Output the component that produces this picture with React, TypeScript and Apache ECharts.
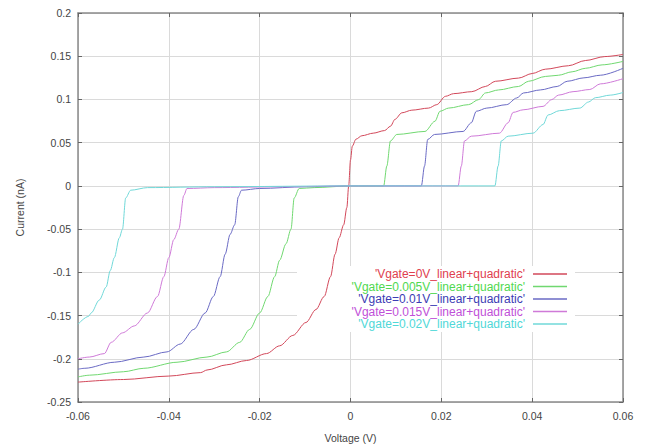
import React, { useEffect, useRef } from "react";
import * as echarts from "echarts";

const seriesNames = [
  "'Vgate=0V_linear+quadratic'",
  "'Vgate=0.005V_linear+quadratic'",
  "'Vgate=0.01V_linear+quadratic'",
  "'Vgate=0.015V_linear+quadratic'",
  "'Vgate=0.02V_linear+quadratic'",
];
const seriesColors = ["#e0404f", "#50d850", "#3c3cb4", "#c050d8", "#50d8d8"];
const lineColors = ["#d2485a", "#70d870", "#6a6ac4", "#cf7ad8", "#70d8d8"];

const xTicks = [-0.06, -0.04, -0.02, 0, 0.02, 0.04, 0.06];
const yTicks = [-0.25, -0.2, -0.15, -0.1, -0.05, 0, 0.05, 0.1, 0.15, 0.2];

const vgate0: number[][] = [
  [-0.06, -0.227], [-0.05, -0.224], [-0.04, -0.22], [-0.033, -0.216], [-0.0316, -0.213],
  [-0.0273, -0.207], [-0.0229, -0.202], [-0.0185, -0.194], [-0.0156, -0.185], [-0.0127, -0.173],
  [-0.0098, -0.158], [-0.0076, -0.143], [-0.0058, -0.128], [-0.0044, -0.105], [-0.0034, -0.079],
  [-0.0025, -0.06], [-0.0015, -0.045], [-0.0008, -0.025], [-0.0004, 0], [0, 0.03],
  [0.0004, 0.046], [0.0012, 0.054], [0.0025, 0.058], [0.005, 0.061], [0.0075, 0.064],
  [0.0088, 0.069], [0.0098, 0.077], [0.0113, 0.0845], [0.0135, 0.0876], [0.0172, 0.09],
  [0.019, 0.094], [0.0209, 0.1036], [0.0227, 0.1067], [0.0267, 0.109], [0.0297, 0.115],
  [0.0319, 0.121], [0.037, 0.1247], [0.04, 0.13], [0.0429, 0.135], [0.048, 0.139],
  [0.0517, 0.145], [0.056, 0.1496], [0.06, 0.152],
];
const vgate005: number[][] = [
  [-0.06, -0.221], [-0.0575, -0.219], [-0.05, -0.215], [-0.0455, -0.211], [-0.0382, -0.204],
  [-0.0316, -0.198], [-0.0273, -0.192], [-0.0244, -0.181], [-0.0222, -0.166], [-0.02, -0.147],
  [-0.0182, -0.128], [-0.0167, -0.105], [-0.0156, -0.086], [-0.0142, -0.067], [-0.0131, -0.05],
  [-0.0124, -0.014], [-0.0113, -0.003], [-0.008, -0.002], [0, 0], [0.0073, 0],
  [0.008, 0.023], [0.0088, 0.052], [0.0102, 0.0595], [0.0164, 0.063], [0.0186, 0.0748],
  [0.0197, 0.0863], [0.0216, 0.09], [0.026, 0.094], [0.0282, 0.0998], [0.0297, 0.1075],
  [0.0326, 0.111], [0.037, 0.115], [0.0392, 0.121], [0.0429, 0.1266], [0.0458, 0.128],
  [0.0488, 0.132], [0.0517, 0.136], [0.0554, 0.14], [0.06, 0.144],
];
const vgate01: number[][] = [
  [-0.06, -0.212], [-0.0585, -0.211], [-0.052, -0.204], [-0.0455, -0.198], [-0.0404, -0.192],
  [-0.0375, -0.183], [-0.0345, -0.166], [-0.032, -0.147], [-0.0302, -0.128], [-0.0287, -0.105],
  [-0.0276, -0.079], [-0.0265, -0.056], [-0.0255, -0.045], [-0.0247, -0.0125], [-0.024, -0.005],
  [-0.02, -0.003], [-0.01, -0.001], [0, 0], [0.0156, 0], [0.0163, 0.023],
  [0.017, 0.0537], [0.0185, 0.0595], [0.0248, 0.063], [0.0266, 0.073], [0.0277, 0.0863],
  [0.03, 0.09], [0.0344, 0.094], [0.0366, 0.1017], [0.0381, 0.1075], [0.0418, 0.111],
  [0.0455, 0.115], [0.0477, 0.121], [0.0514, 0.125], [0.055, 0.128], [0.06, 0.136],
];
const vgate015: number[][] = [
  [-0.06, -0.2], [-0.0575, -0.198], [-0.0542, -0.194], [-0.0527, -0.181], [-0.0502, -0.17],
  [-0.0476, -0.162], [-0.0447, -0.147], [-0.0425, -0.128], [-0.0411, -0.105], [-0.04, -0.083],
  [-0.0389, -0.062], [-0.0378, -0.05], [-0.0367, -0.011], [-0.036, -0.003], [-0.03, -0.002],
  [-0.015, -0.001], [0, 0], [0.0237, 0], [0.0244, 0.023], [0.0251, 0.052],
  [0.0266, 0.0575], [0.0328, 0.061], [0.0347, 0.073], [0.0358, 0.085], [0.038, 0.088],
  [0.0424, 0.092], [0.0443, 0.0998], [0.0458, 0.105], [0.049, 0.109], [0.0527, 0.1115],
  [0.055, 0.118], [0.06, 0.124],
];
const vgate02: number[][] = [
  [-0.06, -0.16], [-0.0577, -0.151], [-0.0571, -0.147], [-0.0553, -0.132], [-0.0538, -0.117],
  [-0.0529, -0.098], [-0.052, -0.083], [-0.0509, -0.06], [-0.0502, -0.05], [-0.0495, -0.014],
  [-0.0484, -0.005], [-0.0447, -0.002], [-0.03, -0.001], [0, 0], [0.0318, 0],
  [0.0325, 0.023], [0.0332, 0.052], [0.0347, 0.0575], [0.0402, 0.061], [0.0424, 0.071],
  [0.0435, 0.082], [0.046, 0.087], [0.0505, 0.09], [0.0524, 0.097], [0.0539, 0.102],
  [0.0572, 0.105], [0.06, 0.108],
];
const allData = [vgate0, vgate005, vgate01, vgate015, vgate02];

const FONT = "Liberation Sans, Arial, sans-serif";
const fmt = (v: number) => String(+v.toFixed(3));

export default function App() {
  const ref = useRef<HTMLDivElement>(null);
  useEffect(() => {
    if (!ref.current) return;
    const chart = echarts.init(ref.current, undefined, { renderer: "svg" });
    const axisLine = { show: true, onZero: false, lineStyle: { color: "#8a8a8a", width: 1.5 } };
    const tick = { show: true, inside: true, length: 4, lineStyle: { color: "#666" } };
    const xBase = { type: "value" as const, min: xTicks[0], max: xTicks[xTicks.length - 1], interval: 0.02 };
    const yBase = { type: "value" as const, min: yTicks[0], max: yTicks[yTicks.length - 1], interval: 0.05 };
    chart.setOption({
      animation: false,
      backgroundColor: "#fff",
      grid: { left: 78, right: 28, top: 13, bottom: 44 },
      xAxis: [
        {
          ...xBase,
          position: "bottom",
          name: "Voltage (V)",
          nameLocation: "middle",
          nameGap: 30,
          nameTextStyle: { color: "#444", fontSize: 10.5, fontFamily: FONT },
          axisLine,
          axisTick: tick,
          axisLabel: { color: "#444", fontSize: 10.5, fontFamily: FONT, margin: 8, formatter: fmt },
          splitLine: { show: true, lineStyle: { color: "#dadada", width: 1 } },
        },
        {
          ...xBase,
          position: "top",
          axisLine,
          axisTick: tick,
          axisLabel: { show: false },
          splitLine: { show: false },
        },
      ],
      yAxis: [
        {
          ...yBase,
          position: "left",
          name: "Current (nA)",
          nameLocation: "middle",
          nameGap: 53,
          nameTextStyle: { color: "#444", fontSize: 10.5, fontFamily: FONT },
          axisLine,
          axisTick: tick,
          axisLabel: { color: "#444", fontSize: 10.5, fontFamily: FONT, margin: 7, formatter: fmt },
          splitLine: { show: true, lineStyle: { color: "#dadada", width: 1 } },
        },
        {
          ...yBase,
          position: "right",
          axisLine,
          axisTick: tick,
          axisLabel: { show: false },
          splitLine: { show: false },
        },
      ],
      graphic: [
        {
          type: "rect",
          z: 1,
          shape: { x: 297, y: 266, width: 278, height: 66 },
          style: { fill: "#fff" },
          silent: true,
        },
      ],
      legend: {
        orient: "vertical",
        align: "right",
        right: 84,
        top: 268,
        icon: "rect",
        itemWidth: 34,
        itemHeight: 1.5,
        itemGap: 0.5,
        padding: 0,
        data: seriesNames.map((n, i) => ({
          name: n,
          textStyle: { color: seriesColors[i] },
          itemStyle: { color: lineColors[i] },
        })),
        textStyle: { fontSize: 12, fontFamily: FONT, lineHeight: 12, padding: [0, 3, 0, 0] },
      },
      series: allData.map((d, i) => ({
        type: "line",
        name: seriesNames[i],
        data: d,
        showSymbol: false,
        symbol: "none",
        smooth: 0.3,
        smoothMonotone: "x",
        color: lineColors[i],
        lineStyle: { width: 1, color: lineColors[i] },
        z: 2,
      })),
    });
    return () => chart.dispose();
  }, []);
  return (
    <div
      ref={ref}
      style={{ position: "fixed", left: 0, top: 0, width: 651, height: 448 }}
    />
  );
}
